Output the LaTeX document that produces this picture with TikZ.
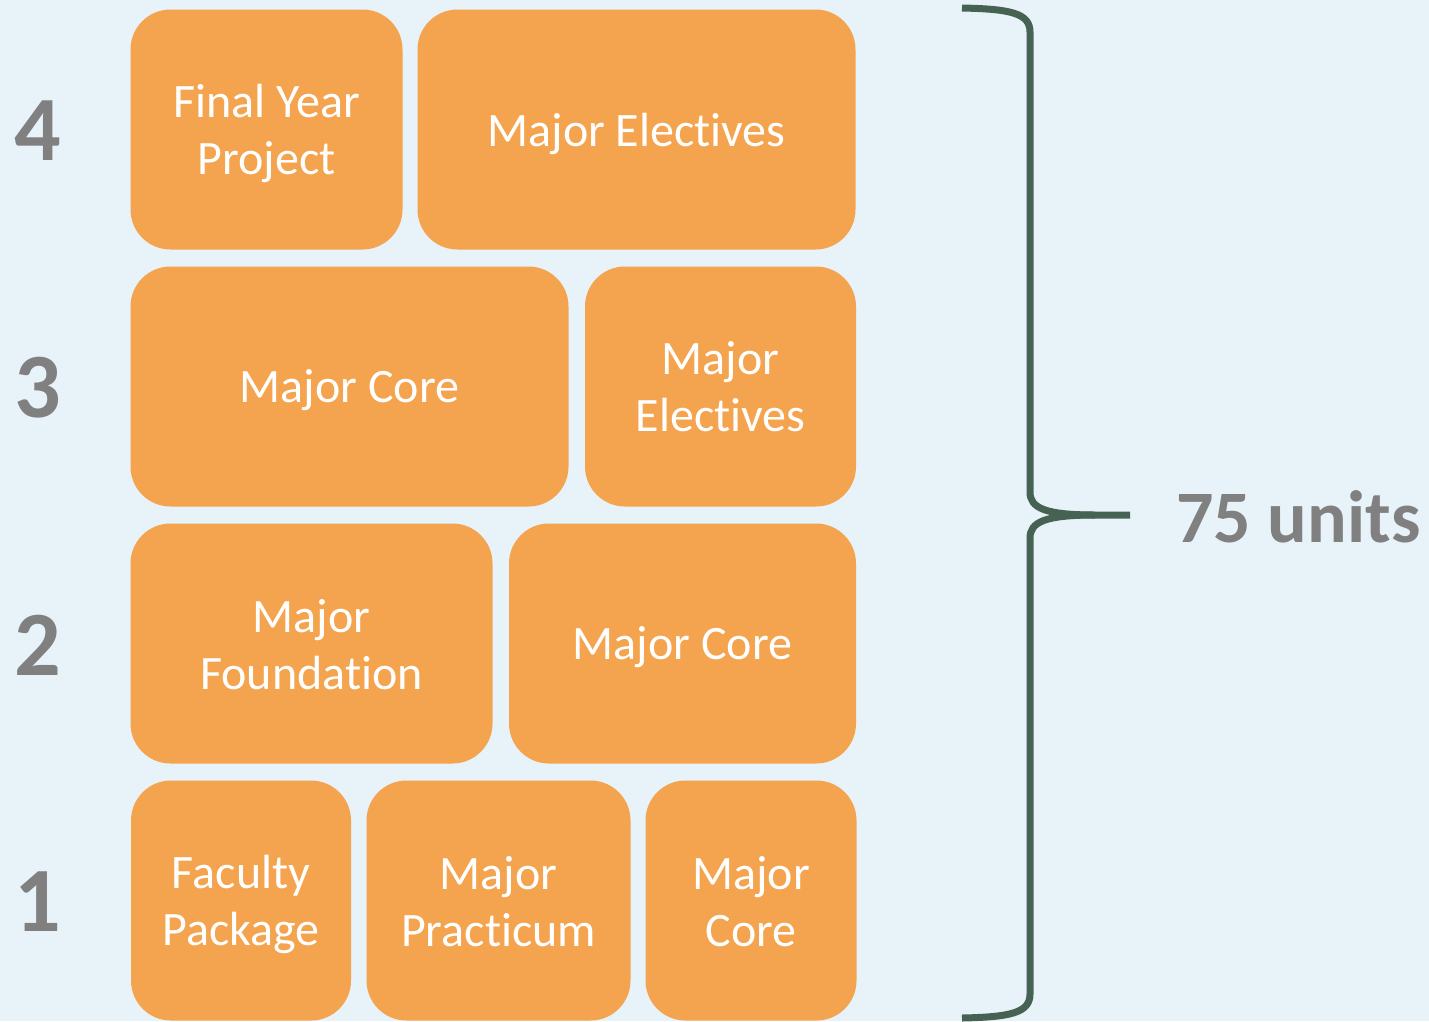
\documentclass[tikz,border=0pt]{standalone}
\usepackage{fontspec}
\setmainfont{Carlito}[Ligatures={NoCommon}]
\definecolor{bgc}{RGB}{231,242,249}
\definecolor{boxc}{RGB}{244,164,78}
\definecolor{bracec}{RGB}{70,98,83}
\definecolor{numc}{RGB}{128,128,128}
\begin{document}
\begin{tikzpicture}[x=1pt,y=-1pt,
  box/.style={fill=boxc, draw=none, rounded corners=40pt, inner sep=0pt, minimum height=240pt},
  lbl/.style={text=white, align=center, inner sep=0pt, font=\fontsize{48}{57}\selectfont},
  num/.style={text=numc, font=\fontsize{92}{92}\selectfont\bfseries, inner sep=0pt},
]
\fill[bgc] (0,0) rectangle (1429,1021);
\useasboundingbox (0,0) rectangle (1429,1021);
% row 4
\node[box, minimum width=272pt] (fyp) at (266.5,129.5) {};
\node[box, minimum width=438pt] (me4) at (636.5,129.5) {};
% row 3
\node[box, minimum width=438pt] (mc3) at (349.5,386.5) {};
\node[box, minimum width=271pt] (me3) at (720.5,386.5) {};
% row 2
\node[box, minimum width=362pt] (mf2) at (311.5,643.5) {};
\node[box, minimum width=347pt] (mc2) at (682.5,643.5) {};
% row 1
\node[box, minimum width=220pt] (fp1) at (241,900.5) {};
\node[box, minimum width=264pt] (mp1) at (498.5,900.5) {};
\node[box, minimum width=211pt] (mc1) at (751,900.5) {};
% labels
\node[lbl] (fyp-t) at ([yshift=-4pt]fyp.center) {Final Year\\Project};
\node[lbl] (me4-t) at ([yshift=-4pt]me4.center) {Major Electives};
\node[lbl] (mc3-t) at ([yshift=-4pt]mc3.center) {Major Core};
\node[lbl] (me3-t) at ([yshift=-0.5pt]me3.center) {Major\\Electives};
\node[lbl] (mf2-t) at ([yshift=-1pt]mf2.center) {Major\\Foundation};
\node[lbl] (mc2-t) at ([yshift=-4pt]mc2.center) {Major Core};
\node[lbl] (fp1-t) at ([yshift=-4pt]fp1.center) {Faculty\\Package};
\node[lbl] (mp1-t) at ([yshift=-1pt]mp1.center) {Major\\Practicum};
\node[lbl] (mc1-t) at ([yshift=-1pt]mc1.center) {Major\\Core};
% year numbers
\node[num] (n4) at (38,131) {4};
\node[num] (n3) at (38,388) {3};
\node[num] (n2) at (38,645) {2};
\node[num] (n1) at (38,902) {1};
% brace
\coordinate (btop) at (962,8);
\coordinate (bbot) at (962,1018);
\coordinate (btip) at (1130,515);
\draw[bracec, line width=7pt]
  (btop) .. controls (1010,9) and (1030,13) .. (1030,32)
  -- (1030,492) .. controls (1030,508) and (1045,515) .. (1095,515) -- (btip);
\draw[bracec, line width=7pt]
  (bbot) .. controls (1010,1017) and (1030,1013) .. (1030,994)
  -- (1030,538) .. controls (1030,522) and (1045,515) .. (1095,515);
\node[text=numc, font=\fontsize{74}{74}\selectfont\bfseries, anchor=west, inner sep=0pt] (units) at (1176,517) {75 units};
\end{tikzpicture}
\end{document}
